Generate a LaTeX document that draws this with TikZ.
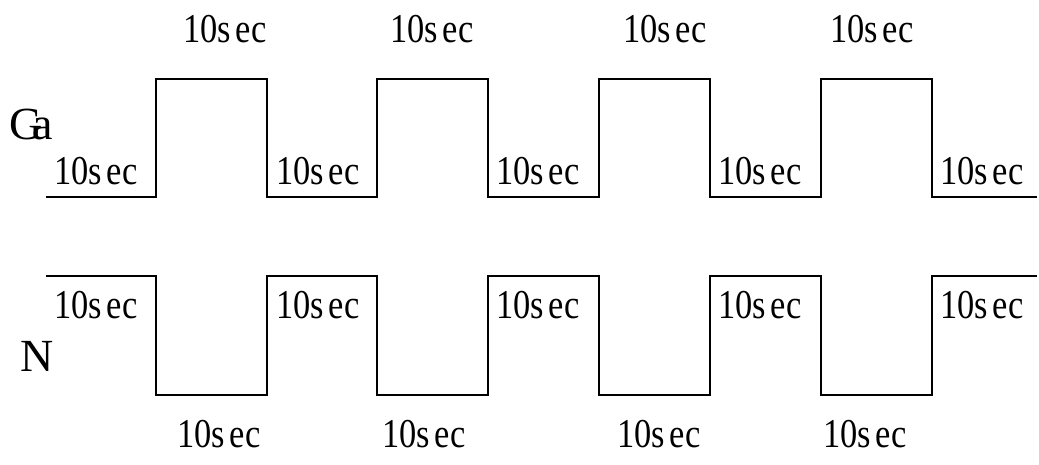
\documentclass[tikz,border=0pt]{standalone}
\usepackage{fontspec}
\setmainfont{Liberation Serif}
\newcommand{\tensec}{\scalebox{0.84}[1]{10s\kern0.12em e\kern0.03em c}}
\begin{document}
\begin{tikzpicture}[x=1pt,y=-1pt,
  wave/.style={line width=2.9pt,line join=miter,black},
  lbl/.style={anchor=base,inner sep=0pt,font=\fontsize{41}{48}\selectfont},
  sig/.style={anchor=base,inner sep=0pt,font=\fontsize{46}{54}\selectfont}]
\useasboundingbox (0,0) rectangle (1039,464);
% Ga waveform
\draw[wave] (46,197) -- (156,197) -- (156,79) -- (267,79) -- (267,197) -- (377,197) -- (377,79) -- (488,79) -- (488,197) -- (599,197) -- (599,79) -- (710,79) -- (710,197) -- (821,197) -- (821,79) -- (932,79) -- (932,197) -- (1037,197);
% N waveform
\draw[wave] (46,276) -- (156,276) -- (156,395) -- (267,395) -- (267,276) -- (377,276) -- (377,395) -- (488,395) -- (488,276) -- (599,276) -- (599,395) -- (710,395) -- (710,276) -- (821,276) -- (821,395) -- (932,395) -- (932,276) -- (1037,276);
% signal names
\node[sig] (ga) at (31,139) {G\kern-0.22em a};
\node[sig] (n) at (37,371) {N};
% top labels
\foreach \x/\i in {225/1,432/2,665/3,872/4}
  \node[lbl] (t\i) at (\x,42) {\tensec};
% Ga low labels
\foreach \x/\i in {96/1,318/2,538/3,760/4,982/5}
  \node[lbl] (gl\i) at (\x,184) {\tensec};
% N high labels
\foreach \x/\i in {96/1,318/2,538/3,760/4,982/5}
  \node[lbl] (nh\i) at (\x,318) {\tensec};
% bottom labels
\foreach \x/\i in {219/1,424/2,659/3,865/4}
  \node[lbl] (b\i) at (\x,447) {\tensec};
\end{tikzpicture}
\end{document}
